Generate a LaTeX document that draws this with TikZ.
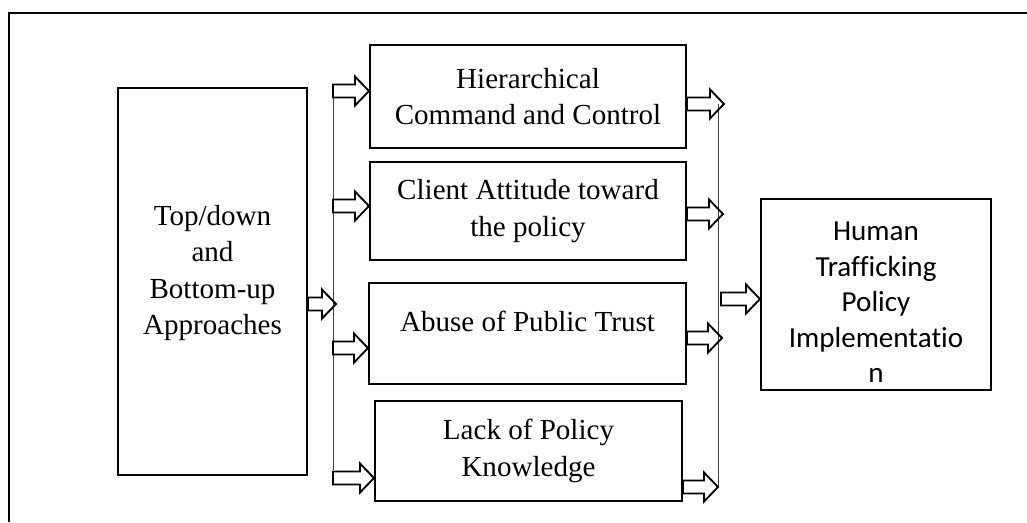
\documentclass[tikz,border=0pt]{standalone}
\usepackage{fontspec}
\setmainfont{Liberation Serif}
\newfontfamily\calibrifont[Ligatures=NoCommon]{Carlito}
\usetikzlibrary{calc}

\begin{document}
\begin{tikzpicture}[x=0.75pt,y=0.75pt,yscale=-1,xscale=1,
    box/.style={draw, line width=1.5pt, inner sep=0pt, align=center, font=\fontsize{21.8}{27.4}\selectfont},
    blockarrow/.style={draw, line width=1.4pt, line join=miter,
      to path={($(\tikztostart)+(0,-6.5)$) -- ($(\tikztotarget)+(-14,-6.5)$) -- ($(\tikztotarget)+(-14,-14.5)$) -- (\tikztotarget) -- ($(\tikztotarget)+(-14,14.5)$) -- ($(\tikztotarget)+(-14,6.5)$) -- ($(\tikztostart)+(0,6.5)$) -- cycle}},
    bus/.style={line width=0.75pt, black!75}]
        \useasboundingbox (0,0) rectangle (1027,522);

        %Shape: Frame
        \draw [line width=1.5pt] (1027,13) -- (9,13) -- (9,522) ;

        %Shape: Rectangle
        \node [box, minimum width=141.75pt, minimum height=290.25pt, text depth=17.5pt] (appr) at (212.5,281.5) {Top/down\\and\\Bottom-up\\Approaches};
        %Shape: Rectangle
        \node [box, minimum width=237pt, minimum height=77.25pt] (hier) at (528,96.5) {Hierarchical\\Command and Control};
        %Shape: Rectangle
        \node [box, minimum width=237pt, minimum height=73.5pt] (client) at (528,211) {Client Attitude toward\\the policy};
        %Shape: Rectangle
        \node [box, minimum width=237.75pt, minimum height=75.75pt, text depth=19pt] (abuse) at (527.5,333.5) {Abuse of Public Trust};
        %Shape: Rectangle
        \node [box, minimum width=230.25pt, minimum height=75pt] (lack) at (528.5,451) {Lack of Policy\\Knowledge};
        %Shape: Rectangle
        \node [box, minimum width=172.5pt, minimum height=143.25pt, text height=132.5pt, text depth=0pt, font=\calibrifont\fontsize{21.8}{26.6}\selectfont] (human) at (876,294.5) {Human\\Trafficking\\Policy\\Implementatio\\n};

        %Straight Lines
        \coordinate (lbtop) at (333,85);
        \coordinate (lbbot) at (333,470);
        \draw [bus] (lbtop) -- (lbbot) ;
        %Straight Lines
        \coordinate (rbtop) at (718,104);
        \coordinate (rbbot) at (718,487);
        \draw [bus] (rbtop) -- (rbbot) ;

        %Block Arrow
        \coordinate (apout) at ([yshift=16.9pt]appr.east);
        \draw [blockarrow] (apout) to ($(apout -| lbtop)+(3,0)$);

        %Block Arrow
        \coordinate (hierin) at ([yshift=-4.1pt]hier.west);
        \draw [blockarrow] (hierin -| lbtop) to (hierin);
        %Block Arrow
        \coordinate (clientin) at ([yshift=-3.75pt]client.west);
        \draw [blockarrow] (clientin -| lbtop) to (clientin);
        %Block Arrow
        \coordinate (abusein) at ([yshift=10.9pt]abuse.west);
        \draw [blockarrow] (abusein -| lbtop) to (abusein);
        %Block Arrow
        \coordinate (lackin) at ([yshift=20.25pt]lack.west);
        \draw [blockarrow] (lackin -| lbtop) to (lackin);

        %Block Arrow
        \coordinate (hierout) at ([yshift=5.6pt]hier.east);
        \draw [blockarrow] (hierout) to ($(hierout -| rbtop)+(6,0)$);
        %Block Arrow
        \coordinate (clientout) at ([yshift=2.25pt]client.east);
        \draw [blockarrow] (clientout) to ($(clientout -| rbtop)+(5,0)$);
        %Block Arrow
        \coordinate (abuseout) at ([yshift=3.4pt]abuse.east);
        \draw [blockarrow] (abuseout) to ($(abuseout -| rbtop)+(4,0)$);
        %Block Arrow
        \coordinate (lackout) at ([yshift=27pt]lack.east);
        \draw [blockarrow] (lackout) to (lackout -| rbtop);

        %Block Arrow
        \coordinate (humin) at ([yshift=3.4pt]human.west);
        \draw [blockarrow] ($(humin -| rbtop)+(3,0)$) to (humin);
    \end{tikzpicture}
\end{document}
